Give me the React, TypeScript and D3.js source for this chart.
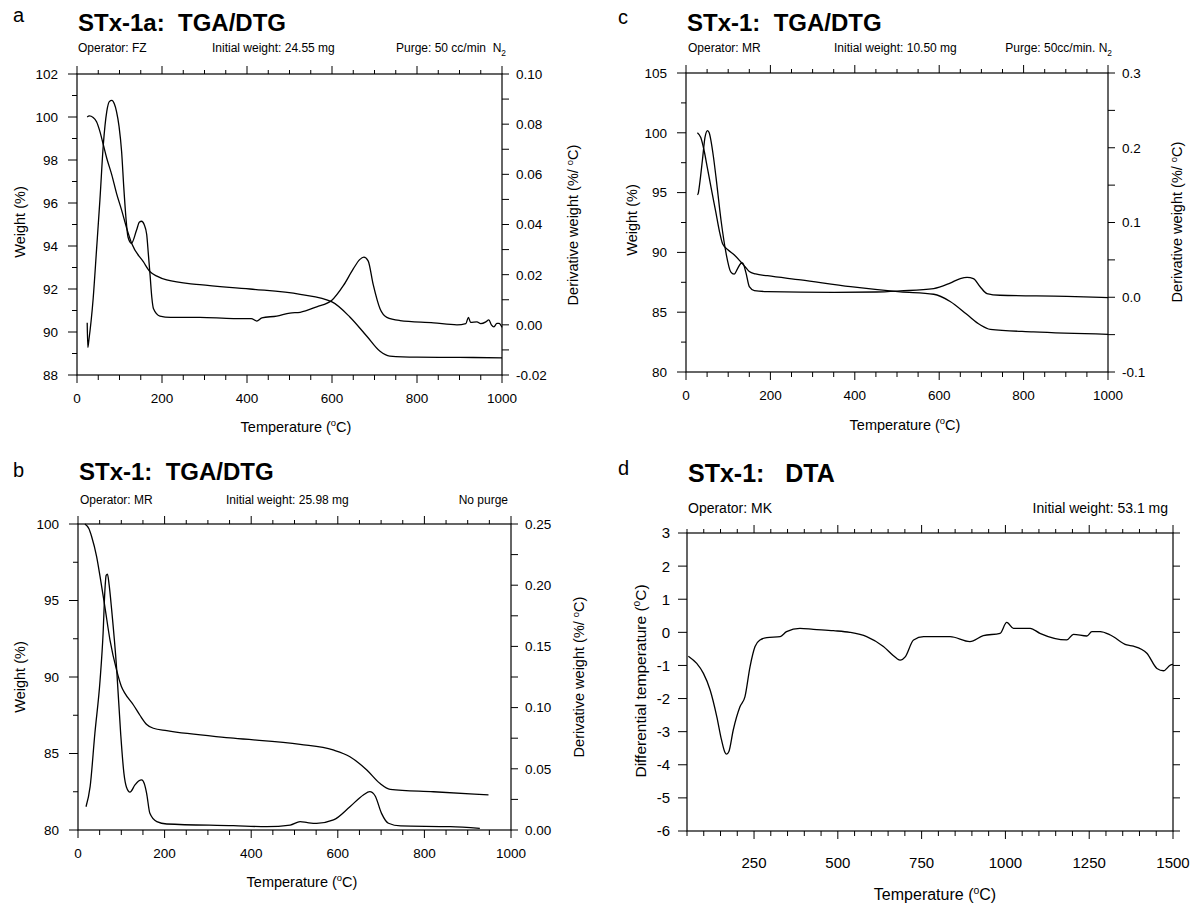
import React from 'react';
import * as d3 from 'd3';

type Pt = [number, number];

// ---------- Tick labels ----------
const tempTicks = [0, 200, 400, 600, 800, 1000];
const aLeftTicks = [88, 90, 92, 94, 96, 98, 100, 102];
const aRightTicks = [-0.02, 0, 0.02, 0.04, 0.06, 0.08, 0.1];
const cLeftTicks = [80, 85, 90, 95, 100, 105];
const cRightTicks = [-0.1, 0, 0.1, 0.2, 0.3];
const bLeftTicks = [80, 85, 90, 95, 100];
const bRightTicks = [0, 0.05, 0.1, 0.15, 0.2, 0.25];
const dTempTicks = [250, 500, 750, 1000, 1250, 1500];
const dLeftTicks = [-6, -5, -4, -3, -2, -1, 0, 1, 2, 3];

// ---------- Panel a: STx-1a TGA/DTG ----------
const aWeight: Pt[] = [
  [24, 100.0], [29, 100.05], [38, 99.98], [46, 99.78], [54, 99.32], [62, 98.7], [70, 98.08],
  [82, 97.3], [93, 96.45], [105, 95.67], [117, 94.82], [129, 94.1], [156, 93.27], [172, 92.8],
  [188, 92.6], [211, 92.42], [289, 92.2], [407, 92.0], [525, 91.75], [600, 91.4], [642, 90.7],
  [682, 89.8], [713, 89.1], [736, 88.88], [800, 88.83], [900, 88.82], [1000, 88.8],
];
const aDeriv: Pt[] = [
  [24, 0.0008], [25.5, -0.009], [28, -0.006], [38, 0.0104], [46, 0.03], [54, 0.05], [62, 0.072],
  [70, 0.085], [76, 0.089], [82, 0.0895], [88, 0.088], [93, 0.085], [99, 0.079], [105, 0.069],
  [110, 0.055], [115, 0.043], [120, 0.035], [128, 0.0325], [140, 0.0377], [147, 0.041],
  [152, 0.0413], [158, 0.04], [164, 0.036], [168, 0.028], [172, 0.0197], [176, 0.011],
  [180, 0.0064], [195, 0.0035], [220, 0.003], [289, 0.003], [368, 0.0025], [410, 0.0025],
  [423, 0.0015], [435, 0.0028], [470, 0.0035], [501, 0.0047], [525, 0.005], [564, 0.0072],
  [599, 0.0097], [627, 0.0157], [650, 0.0223], [665, 0.026], [675, 0.027], [685, 0.0255],
  [697, 0.016], [713, 0.0064], [729, 0.003], [760, 0.0017], [839, 0.0008], [894, 0.0],
  [915, 0.0005], [921, 0.003], [926, 0.001], [941, 0.0012], [950, 0.0005], [962, 0.0012],
  [969, 0.002], [975, 0.0], [981, -0.0008], [988, 0.0006], [993, 0.0006], [1000, -0.001],
];

// ---------- Panel c: STx-1 TGA/DTG (purge) ----------
const cWeight: Pt[] = [
  [27, 100.0], [35, 99.6], [43, 98.5], [51, 97.0], [59, 95.5], [71, 93.3], [79, 91.8],
  [87, 90.7], [100, 90.2], [114, 89.8], [130, 89.2], [140, 88.8], [150, 88.4], [165, 88.2],
  [193, 88.05], [272, 87.7], [390, 87.13], [508, 86.7], [587, 86.5], [626, 85.9], [666, 84.8],
  [697, 83.95], [721, 83.57], [823, 83.35], [1000, 83.15],
];
const cDeriv: Pt[] = [
  [27, 0.137], [29, 0.139], [32, 0.15], [39, 0.184], [45, 0.214], [51, 0.223], [55, 0.22],
  [59, 0.21], [65, 0.188], [71, 0.161], [83, 0.103], [95, 0.0586], [106, 0.034], [114, 0.031],
  [122, 0.038], [130, 0.0454], [134, 0.046], [142, 0.033], [150, 0.0143], [162, 0.009],
  [193, 0.0075], [351, 0.0065], [450, 0.007], [508, 0.0085], [587, 0.0116], [626, 0.019],
  [650, 0.025], [666, 0.0266], [681, 0.025], [697, 0.0141], [713, 0.005], [744, 0.0027],
  [902, 0.0013], [1000, -0.0004],
];

// ---------- Panel b: STx-1 TGA/DTG (no purge) ----------
const bWeight: Pt[] = [
  [16, 100.0], [25, 99.7], [31.6, 99.17], [43, 97.87], [51, 96.56], [62, 94.6], [74, 92.4],
  [89, 90.46], [100, 89.4], [108.5, 88.93], [128, 88.17], [143, 87.5], [158.6, 86.9],
  [174, 86.65], [205, 86.49], [359, 86.0], [513, 85.6], [589, 85.23], [628, 84.79],
  [667, 83.92], [697, 83.05], [721, 82.66], [821, 82.5], [948, 82.29],
];
const bDeriv: Pt[] = [
  [18.5, 0.019], [28, 0.0354], [39, 0.079], [51, 0.1225], [58, 0.161], [62, 0.195], [65, 0.208],
  [68, 0.209], [72, 0.2], [77.7, 0.18], [89, 0.133], [98.5, 0.079], [106, 0.0465], [112, 0.035],
  [120, 0.031], [131.6, 0.0368], [140, 0.04], [147, 0.041], [153, 0.038], [158.5, 0.03],
  [166, 0.0136], [182, 0.0068], [205, 0.0049], [359, 0.0035], [436, 0.0027], [490, 0.004],
  [513, 0.0068], [530, 0.006], [551, 0.0054], [590, 0.0082], [628, 0.019], [659, 0.0286],
  [674, 0.0313], [686, 0.028], [701, 0.0136], [717, 0.0055], [745, 0.0033], [860, 0.0027],
  [928, 0.0014],
];

// ---------- Panel d: STx-1 DTA ----------
const dDta: Pt[] = [
  [54, -0.72], [79, -0.94], [99, -1.24], [119, -1.74], [139, -2.55], [153, -3.25], [163, -3.62],
  [168, -3.68], [175, -3.6], [188, -2.95], [208, -2.25], [223, -1.94], [238, -1.04],
  [253, -0.43], [268, -0.23], [288, -0.16], [328, -0.13], [347, 0.02], [387, 0.12], [427, 0.09],
  [487, 0.05], [536, 0.0], [586, -0.13], [636, -0.43], [665, -0.7], [676, -0.79], [686, -0.84],
  [701, -0.74], [726, -0.23], [756, -0.13], [835, -0.13], [894, -0.28], [934, -0.1],
  [984, -0.03], [1004, 0.3], [1024, 0.12], [1074, 0.12], [1103, -0.03], [1183, -0.23],
  [1203, -0.06], [1243, -0.11], [1258, 0.02], [1283, 0.02], [1313, -0.08], [1362, -0.38],
  [1382, -0.42], [1422, -0.63], [1452, -1.09], [1472, -1.16], [1492, -0.99], [1500, -0.97],
];

const FONT = '"Liberation Sans", Arial, Helvetica, sans-serif';

const fmtFn = (spec: string) => {
  const f = d3.format(spec);
  return (v: number) => f(v).replace('\u2212', '-');
};

interface SubItem { text: string; x: number; anchor?: string; sub?: string }

interface PanelProps {
  x0: number; x1: number; yT: number; yB: number;
  xDom: [number, number];
  xLabels: number[]; xMinorStep: number; topMajorStep: number;
  leftDom: [number, number]; leftLabels: number[]; leftMinorStep: number; leftFmt: (v: number) => string;
  rightDom: [number, number]; rightLabels: number[]; rightMinorStep: number; rightFmt?: (v: number) => string;
  left?: Pt[]; right?: Pt[];
  letter: string; letterPos: [number, number];
  title: string; titleBase: number; titleSize: number;
  subs: SubItem[]; subBase: number; subSize: number;
  tickSize: number; xLabelDy: number; leftLabelGap: number;
  xTitle: [number, number]; xTitleSize: number;
  yTitle: string; yTitlePos: [number, number]; yTitleSize: number;
  rTitle?: [number, number];
}

function Sup({ size }: { size: number }) {
  return (
    <>
      <tspan dy={-size * 0.38} fontSize={size * 0.65}>o</tspan>
      <tspan dy={size * 0.38}>C)</tspan>
    </>
  );
}

function Panel(p: PanelProps) {
  const sx = d3.scaleLinear().domain(p.xDom).range([p.x0, p.x1]);
  const syL = d3.scaleLinear().domain(p.leftDom).range([p.yB, p.yT]);
  const syR = d3.scaleLinear().domain(p.rightDom).range([p.yB, p.yT]);
  const eps = 1e-9;
  const xMinor = d3.range(Math.ceil(p.xDom[0] / p.xMinorStep) * p.xMinorStep, p.xDom[1] + eps, p.xMinorStep);
  const isTopMajor = (v: number) => Math.abs(v / p.topMajorStep - Math.round(v / p.topMajorStep)) < 1e-6;
  const isLab = (v: number) => p.xLabels.some((l) => Math.abs(l - v) < 1e-6);
  const leftMinor = d3.range(p.leftDom[0], p.leftDom[1] + eps, p.leftMinorStep);
  const rightMinor = d3.range(p.rightDom[0], p.rightDom[1] + p.rightMinorStep * 1e-6, p.rightMinorStep);
  const lineL = d3.line<Pt>().x((d) => sx(d[0])).y((d) => syL(d[1])).curve(d3.curveMonotoneX);
  const lineR = d3.line<Pt>().x((d) => sx(d[0])).y((d) => syR(d[1])).curve(d3.curveMonotoneX);
  const sw = 1.2;
  return (
    <g fontFamily={FONT} fill="#000">
      <text x={p.letterPos[0]} y={p.letterPos[1]} fontSize={20}>{p.letter}</text>
      <text x={p.x0 + 1} y={p.titleBase} fontSize={p.titleSize} fontWeight="bold">{p.title}</text>
      {p.subs.map((s, i) => (
        <text key={i} x={s.x} y={p.subBase} fontSize={p.subSize} textAnchor={s.anchor || 'start'}>
          {s.text}
          {s.sub ? <tspan dy={p.subSize * 0.3} fontSize={p.subSize * 0.7}>{s.sub}</tspan> : null}
        </text>
      ))}
      <rect x={p.x0} y={p.yT} width={p.x1 - p.x0} height={p.yB - p.yT} fill="none" stroke="#000" strokeWidth={sw} />
      {/* bottom & top ticks */}
      {xMinor.map((v, i) => {
        const x = sx(v);
        const lab = isLab(v);
        const tm = isTopMajor(v);
        return (
          <g key={'x' + i} stroke="#000" strokeWidth={1}>
            <line x1={x} x2={x} y1={p.yB} y2={p.yB + (lab ? 8 : 5)} />
            <line x1={x} x2={x} y1={p.yT} y2={p.yT - (tm ? 8 : 4)} />
          </g>
        );
      })}
      {p.xLabels.map((v, i) => (
        <text key={'xl' + i} x={sx(v)} y={p.yB + p.xLabelDy} fontSize={p.tickSize} textAnchor="middle">{v}</text>
      ))}
      {/* left */}
      {leftMinor.map((v, i) => {
        const lab = p.leftLabels.some((l) => Math.abs(l - v) < 1e-6);
        return <line key={'lm' + i} x1={p.x0} x2={p.x0 - (lab ? 9 : 5)} y1={syL(v)} y2={syL(v)} stroke="#000" strokeWidth={1} />;
      })}
      {p.leftLabels.map((v, i) => (
        <text key={'ll' + i} x={p.x0 - p.leftLabelGap} y={syL(v) + p.tickSize * 0.36} fontSize={p.tickSize} textAnchor="end">{p.leftFmt(v)}</text>
      ))}
      {/* right */}
      {rightMinor.map((v, i) => (
        <line key={'rm' + i} x1={p.x1} x2={p.x1 + 7} y1={syR(v)} y2={syR(v)} stroke="#000" strokeWidth={1} />
      ))}
      {p.rightFmt
        ? p.rightLabels.map((v, i) => (
            <text key={'rl' + i} x={p.x1 + 14} y={syR(v) + p.tickSize * 0.36} fontSize={p.tickSize}>{p.rightFmt!(v)}</text>
          ))
        : null}
      {/* curves */}
      {p.left ? <path d={lineL(p.left) || ''} fill="none" stroke="#000" strokeWidth={1.3} /> : null}
      {p.right ? <path d={lineR(p.right) || ''} fill="none" stroke="#000" strokeWidth={1.3} /> : null}
      {/* axis titles */}
      <text x={p.xTitle[0]} y={p.xTitle[1]} fontSize={p.xTitleSize} textAnchor="middle">
        Temperature (<Sup size={p.xTitleSize} />
      </text>
      <text transform={`translate(${p.yTitlePos[0]},${p.yTitlePos[1]}) rotate(-90)`} fontSize={p.yTitleSize} textAnchor="middle">
        {p.yTitle === 'dta' ? (<>Differential temperature (<Sup size={p.yTitleSize} /></>) : 'Weight (%)'}
      </text>
      {p.rTitle ? (
        <text transform={`translate(${p.rTitle[0]},${p.rTitle[1]}) rotate(-90)`} fontSize={p.yTitleSize} textAnchor="middle">
          Derivative weight (%/ <Sup size={p.yTitleSize} />
        </text>
      ) : null}
    </g>
  );
}

export default function App() {
  const common = {
    tickSize: 13.5, xLabelDy: 28, leftLabelGap: 19, xTitleSize: 14.5, yTitleSize: 14.5,
    titleSize: 24, subSize: 12, xMinorStep: 50, topMajorStep: 200, xDom: [0, 1000] as [number, number],
    xLabels: tempTicks, yTitle: 'w',
  };
  return (
    <svg width={1196} height={908} style={{ position: 'absolute', left: 0, top: 0, background: '#fff' }}>
      <rect x={0} y={0} width={1196} height={908} fill="#fff" />
      <Panel
        {...common}
        x0={77} x1={502} yT={74} yB={375}
        leftDom={[88, 102]} leftLabels={aLeftTicks} leftMinorStep={1} leftFmt={fmtFn('d')}
        rightDom={[-0.02, 0.1]} rightLabels={aRightTicks} rightMinorStep={0.01} rightFmt={fmtFn('.2f')}
        left={aWeight} right={aDeriv}
        letter="a" letterPos={[13, 22]}
        title={'STx-1a:\u00a0 TGA/DTG'} titleBase={31}
        subs={[
          { text: 'Operator: FZ', x: 78 },
          { text: 'Initial weight: 24.55 mg', x: 212 },
          { text: 'Purge: 50 cc/min\u00a0 N', x: 506, anchor: 'end', sub: '2' },
        ]}
        subBase={52}
        xTitle={[296, 432]} yTitlePos={[25, 222]} rTitle={[578, 225]}
      />
      <Panel
        {...common}
        x0={686} x1={1108} yT={73} yB={372}
        leftDom={[80, 105]} leftLabels={cLeftTicks} leftMinorStep={2.5} leftFmt={fmtFn('d')}
        rightDom={[-0.1, 0.3]} rightLabels={cRightTicks} rightMinorStep={0.05} rightFmt={fmtFn('.1f')}
        left={cWeight} right={cDeriv}
        letter="c" letterPos={[618, 24]}
        title={'STx-1:\u00a0 TGA/DTG'} titleBase={31}
        subs={[
          { text: 'Operator: MR', x: 688 },
          { text: 'Initial weight: 10.50 mg', x: 834 },
          { text: 'Purge: 50cc/min. N', x: 1112, anchor: 'end', sub: '2' },
        ]}
        subBase={52}
        xTitle={[905, 430]} yTitlePos={[637, 220]} rTitle={[1182, 222]}
      />
      <Panel
        {...common}
        x0={78} x1={511} yT={524} yB={830}
        leftDom={[80, 100]} leftLabels={bLeftTicks} leftMinorStep={2.5} leftFmt={fmtFn('d')}
        rightDom={[0, 0.25]} rightLabels={bRightTicks} rightMinorStep={0.025} rightFmt={fmtFn('.2f')}
        left={bWeight} right={bDeriv}
        letter="b" letterPos={[13, 477]}
        title={'STx-1:\u00a0 TGA/DTG'} titleBase={480}
        subs={[
          { text: 'Operator: MR', x: 80 },
          { text: 'Initial weight: 25.98 mg', x: 226 },
          { text: 'No purge', x: 508, anchor: 'end' },
        ]}
        subBase={504}
        xTitle={[302, 887]} yTitlePos={[25, 677]} rTitle={[584, 677]}
      />
      <Panel
        {...common}
        tickSize={15} xLabelDy={37} leftLabelGap={17} xTitleSize={16} yTitleSize={15.5}
        titleSize={25} subSize={14}
        x0={687} x1={1173} yT={533} yB={831}
        xDom={[50, 1500]} xLabels={dTempTicks} xMinorStep={50} topMajorStep={250}
        leftDom={[-6, 3]} leftLabels={dLeftTicks} leftMinorStep={1} leftFmt={fmtFn('d')}
        rightDom={[-6, 3]} rightLabels={dLeftTicks} rightMinorStep={1}
        left={dDta}
        letter="d" letterPos={[618, 475]}
        title={'STx-1:\u00a0\u00a0 DTA'} titleBase={482}
        subs={[
          { text: 'Operator: MK', x: 688 },
          { text: 'Initial weight: 53.1 mg', x: 1168, anchor: 'end' },
        ]}
        subBase={513}
        xTitle={[935, 900]} yTitle="dta" yTitlePos={[646, 681]}
      />
    </svg>
  );
}
